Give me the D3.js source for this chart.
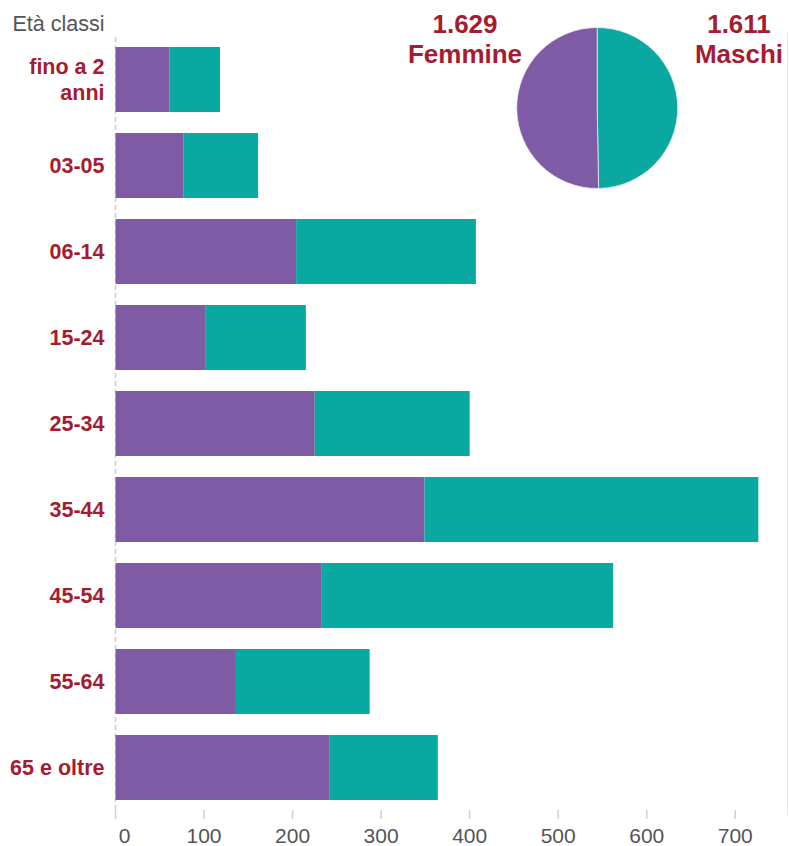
<!DOCTYPE html>
<html>
<head>
<meta charset="utf-8">
<script src="https://cdn.jsdelivr.net/npm/d3@7"></script>
<style>
  body { margin: 0; background: #fff; }
  svg { display: block; font-family: "Liberation Sans", Arial, sans-serif; }
</style>
</head>
<body>
<div id="chart"></div>
<script>
// values
const categories = ["fino a 2 anni", "03-05", "06-14", "15-24", "25-34", "35-44", "45-54", "55-64", "65 e oltre"];
const femmine = [61, 77, 204, 102, 225, 349, 233, 136, 242];
const maschi  = [57, 84, 203, 113, 175, 377, 329, 151, 122];
const xTicks = [0, 100, 200, 300, 400, 500, 600, 700];
const genders = ["Femmine", "Maschi"];

const colors = { Femmine: "#7f5ba6", Maschi: "#09a8a0" };
const red = "#a51c30";
const grey = "#555";

const width = 789, height = 846;
const itFormat = d3.formatLocale({ decimal: ",", thousands: ".", grouping: [3], currency: ["", "€"] }).format(",d");

const svg = d3.select("#chart").append("svg")
  .attr("width", width)
  .attr("height", height);

const x = d3.scaleLinear().domain([0, 700]).range([115.5, 735.3]);
const y = d3.scaleBand().domain(categories)
  .range([36.5, 810.5])
  .paddingInner(21 / 86)
  .paddingOuter(21 / 86 / 2);

// stacked rows
const rows = categories.map((c, i) => ({ cat: c, Femmine: femmine[i], Maschi: maschi[i] }));
const stack = d3.stack().keys(genders)(rows);

// light frame on the right
svg.append("line")
  .attr("x1", 787.5).attr("x2", 787.5)
  .attr("y1", 33).attr("y2", 815)
  .attr("stroke", "#ebebeb").attr("stroke-width", 1);

// baseline (dashed)
svg.append("line")
  .attr("x1", x(0)).attr("x2", x(0))
  .attr("y1", 37).attr("y2", 810)
  .attr("stroke", "#cfcfcf")
  .attr("stroke-width", 1.5)
  .attr("stroke-dasharray", "5,3");

svg.append("g")
  .selectAll("g")
  .data(stack)
  .join("g")
  .attr("fill", d => colors[d.key])
  .selectAll("rect")
  .data(d => d)
  .join("rect")
  .attr("x", d => x(d[0]))
  .attr("y", d => y(d.data.cat))
  .attr("width", d => x(d[1]) - x(d[0]))
  .attr("height", y.bandwidth());

// x axis ticks
const axis = svg.append("g");
axis.selectAll("line")
  .data(xTicks)
  .join("line")
  .attr("x1", d => x(d)).attr("x2", d => x(d))
  .attr("y1", 810).attr("y2", 819)
  .attr("stroke", "#cfcfcf")
  .attr("stroke-width", 1.5);
axis.selectAll("text")
  .data(xTicks)
  .join("text")
  .attr("x", d => x(d) + (d === 0 ? 9 : 0))
  .attr("y", 843)
  .attr("text-anchor", "middle")
  .attr("font-size", 21)
  .attr("fill", grey)
  .text(d => d);

// category labels, wrapped when wider than the margin
const labels = svg.append("g")
  .selectAll("text")
  .data(categories)
  .join("text")
  .attr("text-anchor", "end")
  .attr("font-size", 21.5)
  .attr("font-weight", "bold")
  .attr("fill", red);

labels.each(function (c) {
  const t = d3.select(this);
  const words = c.split(" ");
  let lines = [], cur = [];
  words.forEach(w => {
    cur.push(w);
    t.text(cur.join(" "));
    if (this.getComputedTextLength() > 100 && cur.length > 1) {
      cur.pop();
      lines.push(cur.join(" "));
      cur = [w];
    }
  });
  lines.push(cur.join(" "));
  t.text(null);
  const lh = 25.7;
  const cy = y(c) + y.bandwidth() / 2;
  lines.forEach((l, i) => {
    t.append("tspan")
      .attr("x", 104.5)
      .attr("y", cy - (lines.length - 1) * lh / 2 + i * lh + 7.5)
      .text(l);
  });
});

// axis title
svg.append("text")
  .attr("x", 104.5)
  .attr("y", 30.5)
  .attr("text-anchor", "end")
  .attr("font-size", 21.5)
  .attr("fill", grey)
  .text("Età classi");

// pie of totals
const totals = [
  { key: "Maschi", value: d3.sum(maschi), cx: 739 },
  { key: "Femmine", value: d3.sum(femmine), cx: 465 }
];
const pie = d3.pie().sort(null).value(d => d.value);
const arc = d3.arc().innerRadius(0).outerRadius(80.5);

svg.append("g")
  .attr("transform", "translate(597.2,108)")
  .selectAll("path")
  .data(pie(totals))
  .join("path")
  .attr("d", arc)
  .attr("fill", d => colors[d.data.key])
  .attr("stroke", "#e8e8f0")
  .attr("stroke-width", 0.8);

const tl = svg.append("g")
  .selectAll("text")
  .data(totals)
  .join("text")
  .attr("text-anchor", "middle")
  .attr("font-size", 26)
  .attr("font-weight", "bold")
  .attr("fill", red);
tl.append("tspan").attr("x", d => d.cx).attr("y", 32.7).text(d => itFormat(d.value));
tl.append("tspan").attr("x", d => d.cx).attr("y", 62.7).text(d => d.key);
</script>
</body>
</html>
